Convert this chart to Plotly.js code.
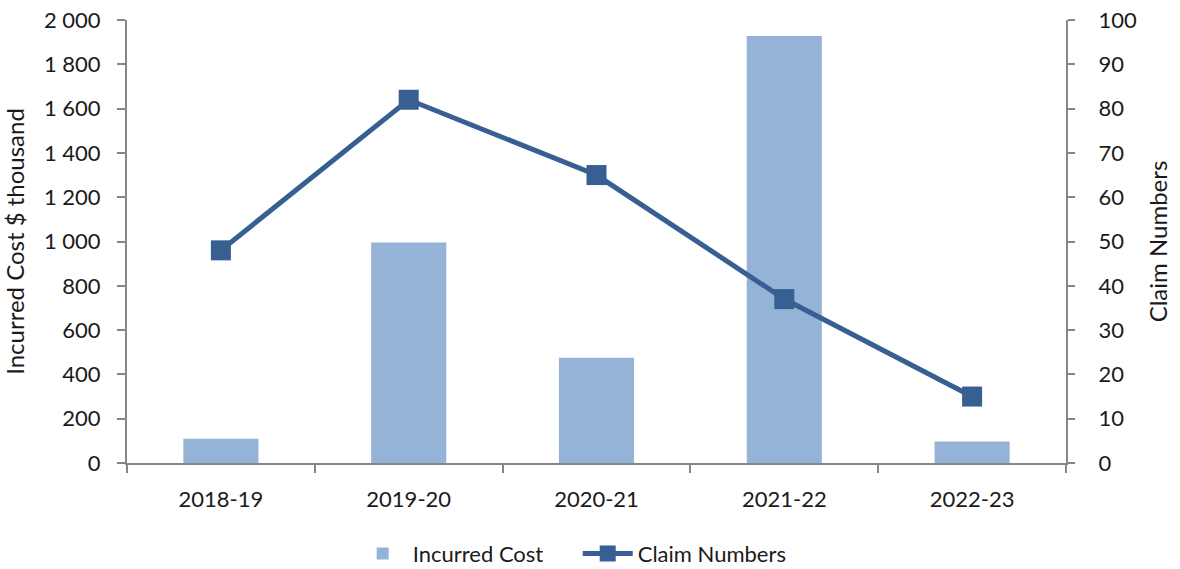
<!DOCTYPE html>
<html>
<head>
<meta charset="utf-8">
<script src="https://cdn.plot.ly/plotly-3.0.1.min.js"></script>
<style>
  html, body { margin: 0; padding: 0; background: #ffffff; }
  #chart { width: 1180px; height: 569px; }
</style>
</head>
<body>
<div id="chart"></div>
<script>
// Financial years on the category axis
const years = ['2018-19', '2019-20', '2020-21', '2021-22', '2022-23'];
// Incurred cost per year, $ thousand (left axis)
const incurredCost = [110, 995, 475, 1928, 97];
// Number of claims per year (right axis)
const claimNumbers = [48, 82, 65, 37, 15];
// Left and right axis tick labels
const costTicks = [0, 200, 400, 600, 800, 1000, 1200, 1400, 1600, 1800, 2000];
const costTickText = ['0', '200', '400', '600', '800', '1 000', '1 200', '1 400', '1 600', '1 800', '2 000'];
const claimTicks = [0, 10, 20, 30, 40, 50, 60, 70, 80, 90, 100];

const FONT = 'Lato, "Open Sans", sans-serif';
const TEXT = '#1a1a1a';
const AXIS_GREY = '#868686';

const traces = [
  {
    type: 'bar',
    name: 'Incurred Cost',
    x: years,
    y: incurredCost,
    yaxis: 'y',
    marker: { color: '#95B3D7' },
    hoverinfo: 'x+y'
  },
  {
    type: 'scatter',
    mode: 'lines+markers',
    name: 'Claim Numbers',
    x: years,
    y: claimNumbers,
    yaxis: 'y2',
    line: { color: '#375F91', width: 5 },
    marker: { symbol: 'square', size: 20, color: '#375F91' }
  }
];

const layout = {
  width: 1180,
  height: 569,
  margin: { l: 127, r: 114, t: 20, b: 106, pad: 0, autoexpand: false },
  paper_bgcolor: '#ffffff',
  plot_bgcolor: '#ffffff',
  font: { family: FONT, size: 22, color: TEXT },
  bargap: 0.6,
  showlegend: true,
  legend: {
    orientation: 'h',
    x: 0.48, xanchor: 'center',
    y: -0.205, yanchor: 'middle',
    font: { family: FONT, size: 22, color: TEXT },
    itemwidth: 50,
    entrywidth: 160,
    traceorder: 'normal'
  },
  xaxis: {
    type: 'category',
    showline: true,
    linecolor: AXIS_GREY,
    linewidth: 2,
    ticks: 'outside',
    tickson: 'boundaries',
    ticklen: 8,
    tickwidth: 2,
    tickcolor: AXIS_GREY,
    showgrid: false,
    zeroline: false,
    ticklabelstandoff: 16,
    tickfont: { family: FONT, size: 22, color: TEXT }
  },
  yaxis: {
    range: [0, 2000],
    tickvals: costTicks,
    ticktext: costTickText,
    showline: true,
    linecolor: AXIS_GREY,
    linewidth: 2,
    ticks: 'outside',
    ticklen: 8,
    tickwidth: 2,
    tickcolor: AXIS_GREY,
    showgrid: false,
    zeroline: false,
    ticklabelstandoff: 12,
    tickfont: { family: FONT, size: 22, color: TEXT },
    title: {
      text: 'Incurred Cost $ thousand',
      font: { family: FONT, size: 24, color: TEXT },
      standoff: 14
    }
  },
  yaxis2: {
    range: [0, 100],
    overlaying: 'y',
    side: 'right',
    tickvals: claimTicks,
    showline: true,
    linecolor: AXIS_GREY,
    linewidth: 2,
    ticks: 'outside',
    ticklen: 7,
    tickwidth: 2,
    tickcolor: AXIS_GREY,
    showgrid: false,
    zeroline: false,
    ticklabelstandoff: 19,
    tickfont: { family: FONT, size: 22, color: TEXT },
    title: {
      text: 'Claim Numbers',
      font: { family: FONT, size: 24, color: TEXT },
      standoff: 14
    }
  }
};

Plotly.newPlot('chart', traces, layout, { displayModeBar: false, staticPlot: true });
</script>
</body>
</html>
